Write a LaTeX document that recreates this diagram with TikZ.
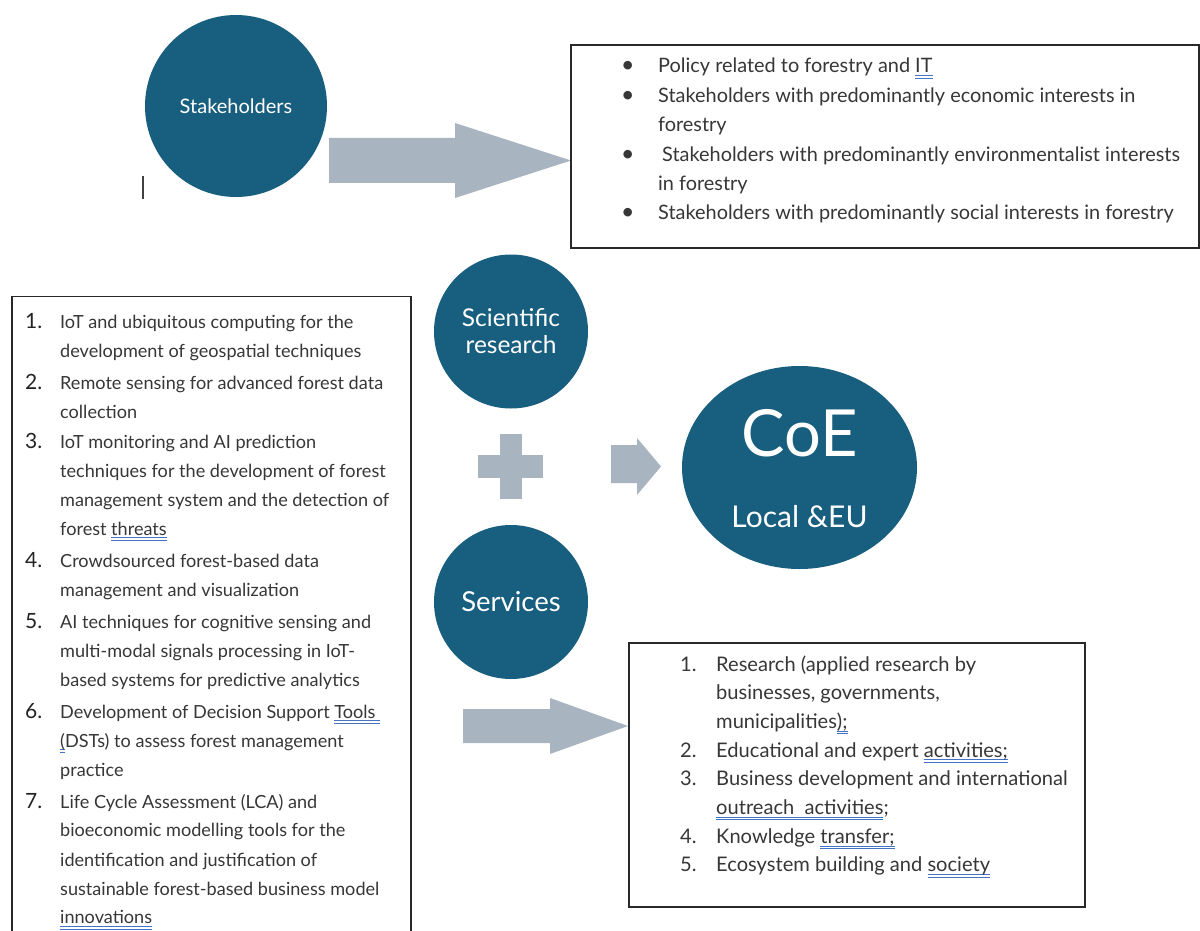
\documentclass[tikz,border=0pt]{standalone}
\usepackage{fontspec}
\setmainfont{Lato}
\usepackage{array}
\usetikzlibrary{shapes.geometric}
\definecolor{circ}{RGB}{24,94,126}
\definecolor{arr}{RGB}{168,181,193}
\definecolor{txt}{RGB}{55,55,55}
\definecolor{numc}{RGB}{35,35,35}
\definecolor{framec}{RGB}{40,40,40}
\definecolor{gramblue}{RGB}{68,114,196}
\newcommand\gram[1]{\setbox0=\hbox{#1}\rlap{\color{gramblue}\rule[-3.2pt]{\wd0}{0.9pt}}\rlap{\color{gramblue}\rule[-5.6pt]{\wd0}{0.9pt}}\box0}
\newcommand\bignum[1]{\leavevmode{\fontsize{21}{29}\selectfont\color{numc}#1}}
\newcommand\bul{\leavevmode{\fontsize{23}{29}\selectfont\textbullet}}
\begin{document}
\begin{tikzpicture}[x=1pt,y=-1pt,
  blob/.style={circle,fill=circ,draw=none,inner sep=0pt,text=white,align=center},
  blockarrow/.style={fill=arr,draw=none},
  framebox/.style={draw=framec,line width=1.3pt,fill=none},
  listtext/.style={anchor=base west,inner sep=0pt,text=txt}]
\useasboundingbox (0,0) rectangle (1200,931);
\fill[white] (0,0) rectangle (1200,931);

% circles
\node[blob,minimum size=182pt,font=\fontsize{20}{24}\selectfont] (stake) at (236,106) {Stakeholders};
\node[blob,minimum size=154pt,font=\fontsize{24.5}{27}\selectfont] (sci) at (511,331.5) {Scientific\\research};
\node[blob,minimum size=154pt,font=\fontsize{27.5}{30}\selectfont] (serv) at (511,602) {Services};
\node[ellipse,fill=circ,draw=none,inner sep=0pt,minimum width=235pt,minimum height=203pt] (coe) at (799.5,467.5) {};
\node[text=white,inner sep=0pt,font=\fontsize{65}{72}\selectfont] (coet) at (799.5,433) {CoE};
\node[text=white,inner sep=0pt,font=\fontsize{30}{34}\selectfont] (coel) at (799.5,517) {Local \&EU};

% cursor mark
\draw[line width=2pt,color=black!75] (143,176) -- (143,199);

% block arrows and plus
\fill[blockarrow] (329,138) -- (455,138) -- (455,123) -- (571,160.5) -- (455,198) -- (455,183) -- (329,183) -- cycle;
\fill[blockarrow] (463,709) -- (550,709) -- (550,698) -- (628,726) -- (550,754) -- (550,743) -- (463,743) -- cycle;
\fill[blockarrow] (611,445) -- (637,445) -- (637,438) -- (661,466.5) -- (637,495) -- (637,483) -- (611,483) -- cycle;
\fill[blockarrow] (478,455) rectangle (543,478);
\fill[blockarrow] (500,434) rectangle (522,499);

% frames
\draw[framebox] (571,45) rectangle (1199,248);
\draw[framebox] (12,940) -- (12,296.5) -- (411,296.5) -- (411,940);
\draw[framebox] (629,643) rectangle (1085,907);

% top-right list
\node[listtext,font=\fontsize{19.9}{29.4}\selectfont] (stklist) at (621,73) {%
\begin{tabular}[t]{@{}p{37pt}@{}l@{}}
\bul & Policy related to forestry and \gram{IT}\\
\bul & Stakeholders with predominantly economic interests in\\
 & forestry\\
\bul & \hspace{4pt}Stakeholders with predominantly environmentalist interests\\
 & in forestry\\
\bul & Stakeholders with predominantly social interests in forestry
\end{tabular}};

% left list
\node[listtext,font=\fontsize{18.1}{29}\selectfont] (reslist) at (25,328) {%
\begin{tabular}[t]{@{}p{35pt}@{}l@{}}
\bignum{1.} & IoT and ubiquitous computing for the\\
 & development of geospatial techniques\\[3pt]
\bignum{2.} & Remote sensing for advanced forest data\\
 & collection\\[1pt]
\bignum{3.} & IoT monitoring and AI prediction\\
 & techniques for the development of forest\\
 & management system and the detection of\\
 & forest \gram{threats}\\[3pt]
\bignum{4.} & Crowdsourced forest-based data\\
 & management and visualization\\[3pt]
\bignum{5.} & AI techniques for cognitive sensing and\\
 & multi-modal signals processing in IoT-\\
 & based systems for predictive analytics\\[3pt]
\bignum{6.} & Development of Decision Support \gram{Tools\ }\\
 & \gram{(}DSTs) to assess forest management\\
 & practice\\[3pt]
\bignum{7.} & Life Cycle Assessment (LCA) and\\
 & bioeconomic modelling tools for the\\
 & identification and justification of\\
 & sustainable forest-based business model\\
 & \gram{innovations}
\end{tabular}};

% bottom-right list
\node[listtext,font=\fontsize{20.1}{28.7}\selectfont] (servlist) at (680,671) {%
\begin{tabular}[t]{@{}p{36pt}@{}l@{}}
1. & Research (applied research by\\
 & businesses, governments,\\
 & municipalities\gram{);}\\
2. & Educational and expert \gram{activities;}\\
3. & Business development and international\\
 & \gram{outreach\ \ activities};\\
4. & Knowledge \gram{transfer;}\\
5. & Ecosystem building and \gram{society}
\end{tabular}};
\end{tikzpicture}
\end{document}
